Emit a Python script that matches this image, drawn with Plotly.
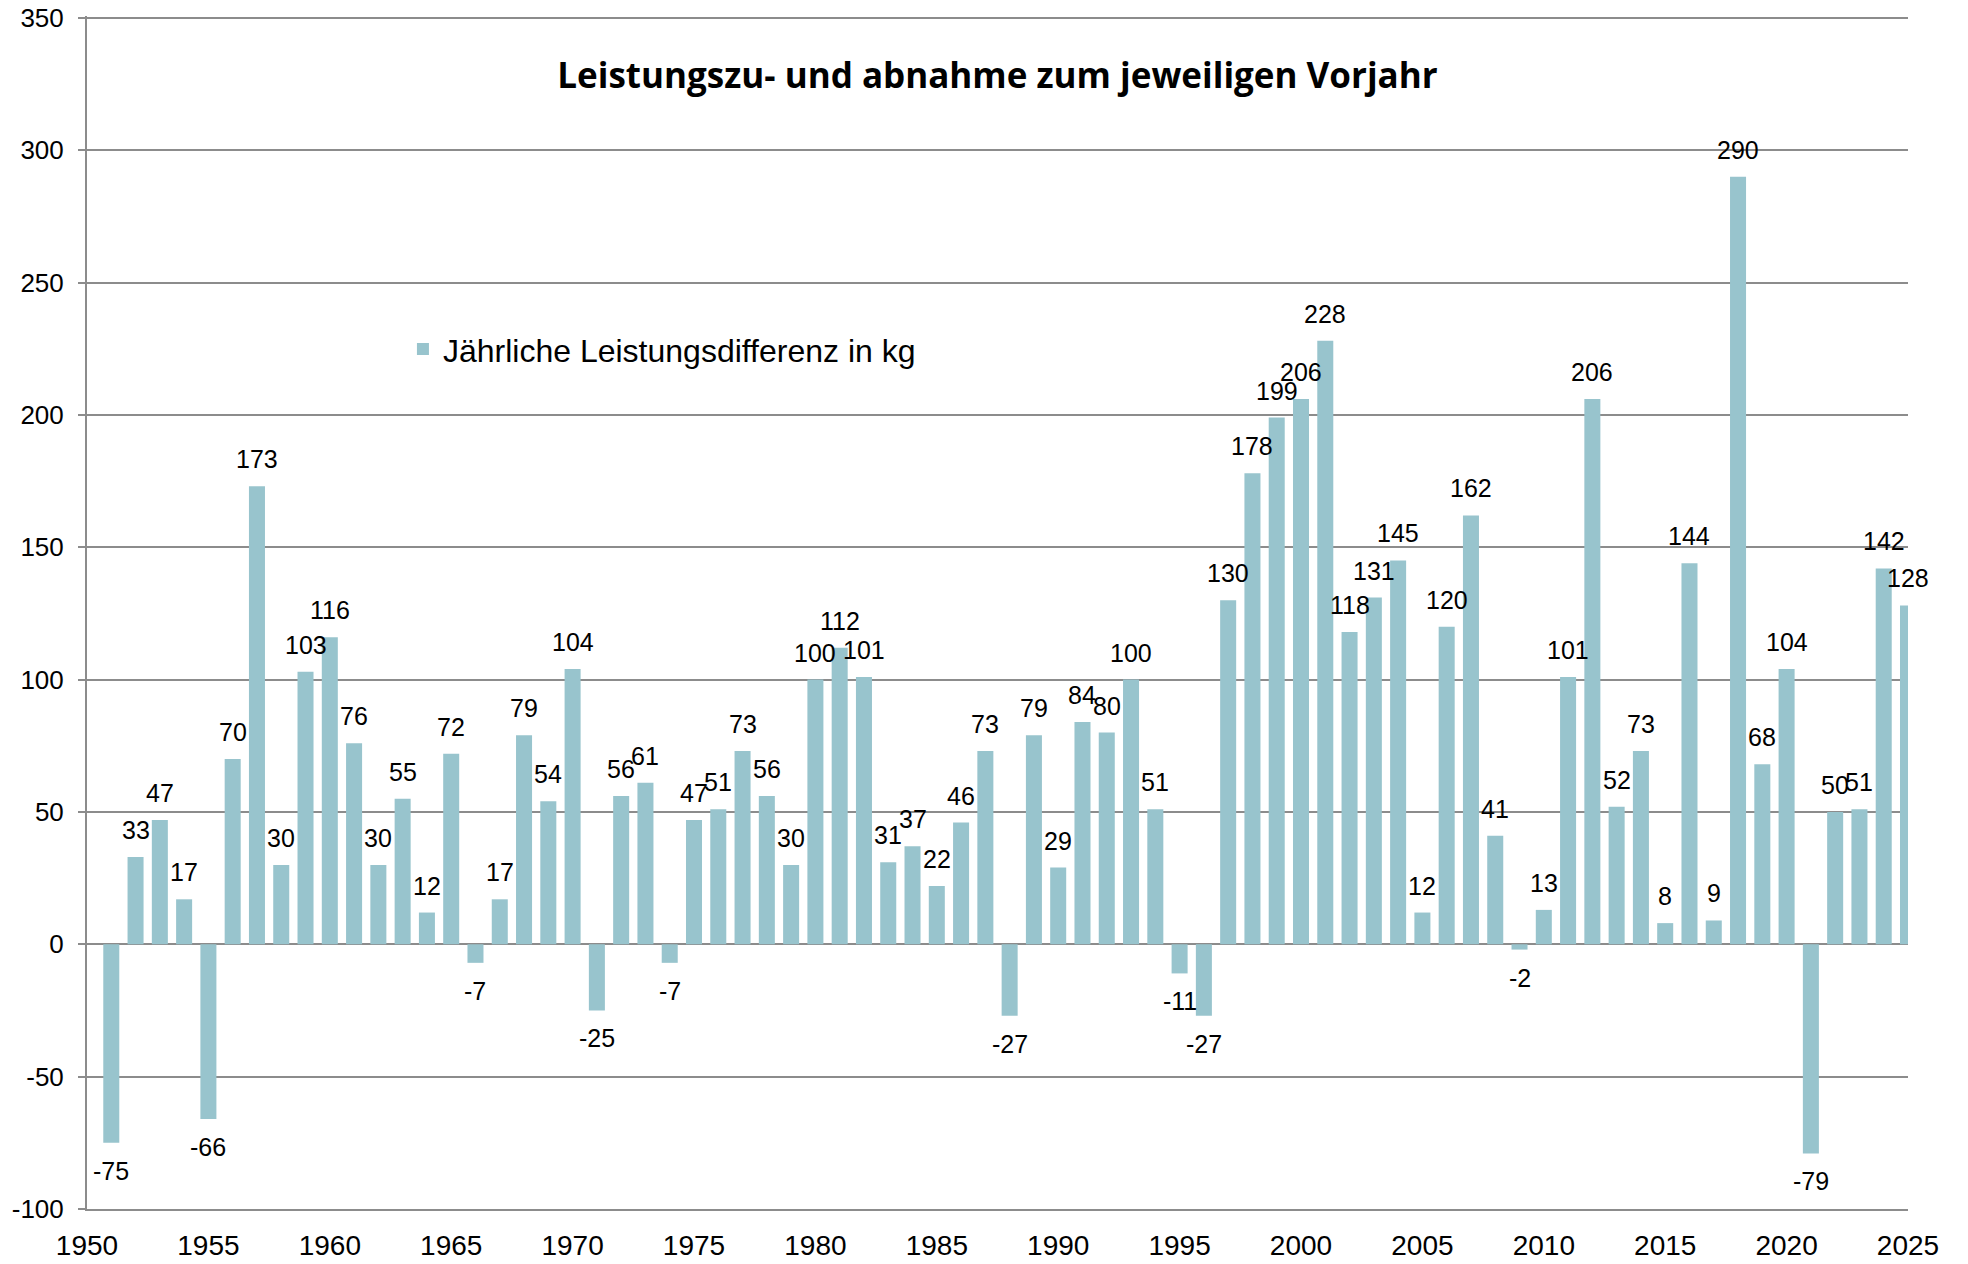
import plotly.graph_objects as go

years = list(range(1951, 2026))
values = [-75, 33, 47, 17, -66, 70, 173, 30, 103, 116,
          76, 30, 55, 12, 72, -7, 17, 79, 54, 104,
          -25, 56, 61, -7, 47, 51, 73, 56, 30, 100,
          112, 101, 31, 37, 22, 46, 73, -27, 79, 29,
          84, 80, 100, 51, -11, -27, 130, 178, 199, 206,
          228, 118, 131, 145, 12, 120, 162, 41, -2, 13,
          101, 206, 52, 73, 8, 144, 9, 290, 68, 104,
          -79, 50, 51, 142, 128]
x_ticks = list(range(1950, 2026, 5))
y_ticks = list(range(-100, 351, 50))
y_tick_labels = [str(v) for v in y_ticks]

title = "Leistungszu- und abnahme zum jeweiligen Vorjahr"
series_name = "Jährliche Leistungsdifferenz in kg"

BAR = "#98C4CD"
GRID = "#8C8C8C"
FONT = "Liberation Sans, Arial, sans-serif"

W, H = 1952, 1248

fig = go.Figure()
fig.add_trace(go.Bar(
    x=years, y=values, name=series_name,
    marker=dict(color=BAR, line=dict(width=0)),
    width=0.66,
    showlegend=True,
))

annotations = []
for yr, v in zip(years, values):
    annotations.append(dict(
        x=yr, y=v, xref="x", yref="y", text=str(v), showarrow=False,
        yanchor="bottom" if v >= 0 else "top",
        yshift=11 if v >= 0 else -12,
        font=dict(family=FONT, size=25, color="#000000"),
    ))

fig.update_layout(
    width=W, height=H,
    margin=dict(l=79, r=52, t=8, b=47, autoexpand=False),
    paper_bgcolor="white", plot_bgcolor="white",
    font=dict(family=FONT, color="#000000"),
    title=dict(text="<b>" + title + "</b>", x=0.5, xref="paper", xanchor="center",
               y=1 - 68 / H, yref="container", yanchor="middle",
               font=dict(family="Open Sans, sans-serif", size=35, color="#000000")),
    annotations=annotations,
    showlegend=True,
    legend=dict(x=0.1735, y=0.7206, xanchor="left", yanchor="middle",
                bgcolor="rgba(0,0,0,0)", font=dict(family=FONT, size=32, color="#000000")),
    xaxis=dict(range=[1950, 2025], tickmode="array", tickvals=x_ticks,
               ticktext=[str(t) for t in x_ticks], showgrid=False, zeroline=False,
               showline=True, linecolor=GRID, linewidth=2, ticks="",
               ticklabelstandoff=10, automargin=False, ticklabeloverflow="allow",
               tickfont=dict(family=FONT, size=28, color="#000000")),
    yaxis=dict(range=[-100, 350.7], tickmode="array", tickvals=y_ticks,
               ticktext=y_tick_labels,
               showgrid=True, gridcolor=GRID, gridwidth=2, zeroline=False,
               showline=True, linecolor=GRID, linewidth=2,
               ticks="outside", ticklen=7, tickcolor=GRID, tickwidth=2,
               ticklabelstandoff=9, automargin=False, ticklabeloverflow="allow",
               tickfont=dict(family=FONT, size=26, color="#000000")),
    bargap=0.34,
)

fig.write_html("out.html")
